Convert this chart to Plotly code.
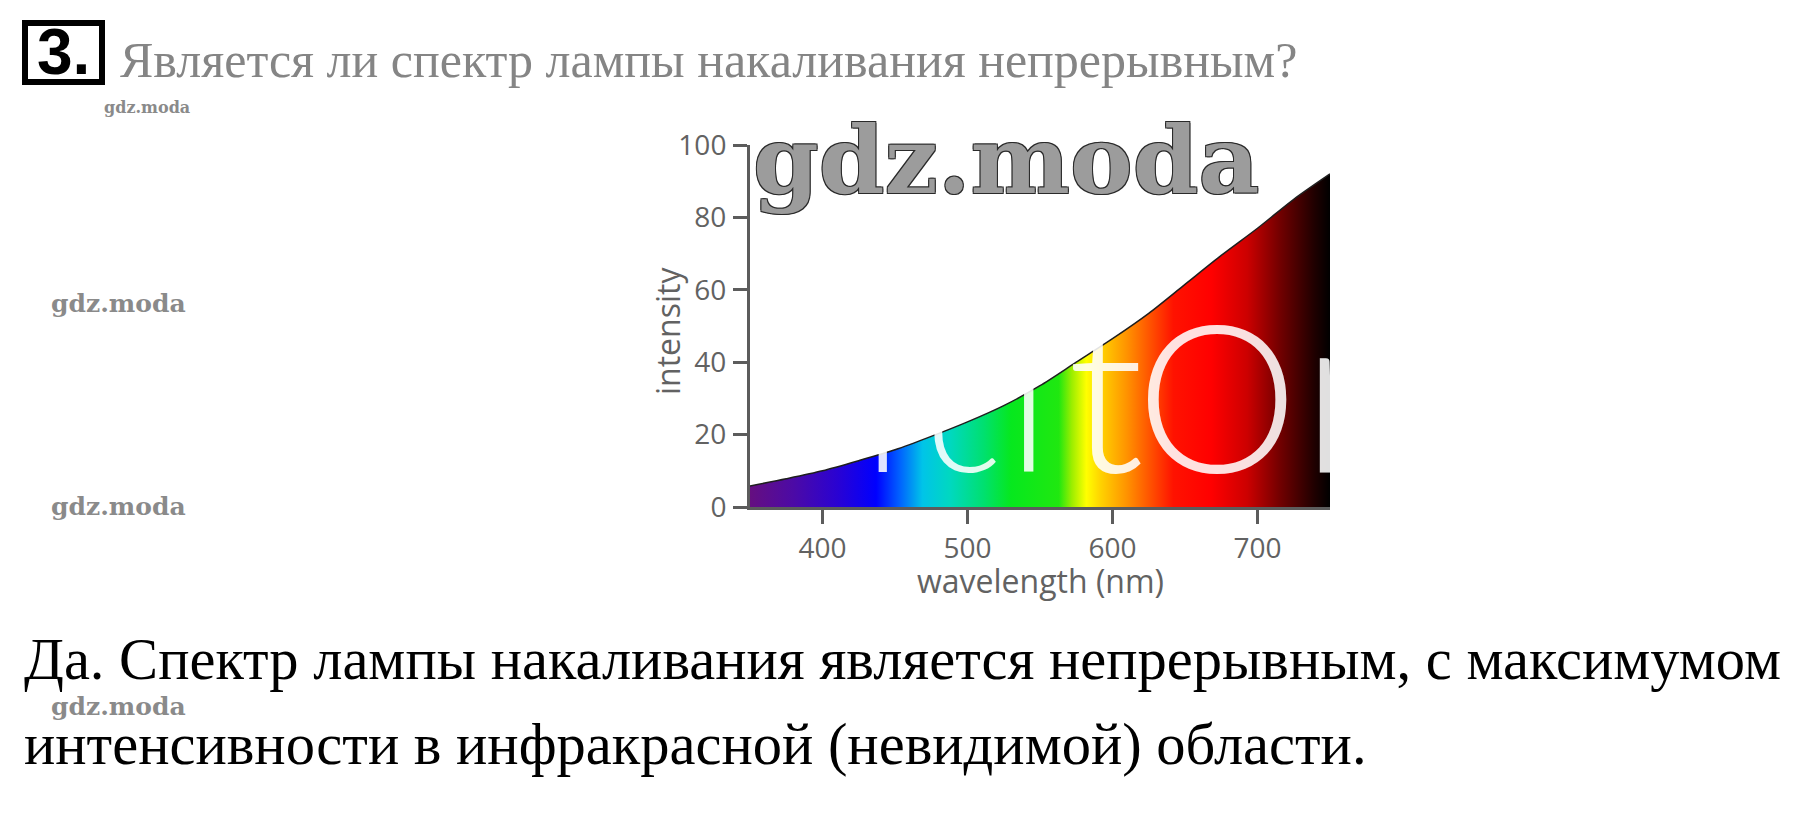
import plotly.graph_objects as go

# ---- data ----
wavelength_nm = [350, 375, 400, 425, 450, 475, 500, 525, 550, 575, 600, 625, 650, 675, 700, 725, 750]
intensity = [5.8, 7.8, 10.0, 12.8, 15.8, 19.5, 23.5, 28.0, 33.5, 40.0, 46.5, 53.5, 61.5, 69.5, 77.0, 85.0, 92.0]

x_ticks = [400, 500, 600, 700]
y_ticks = [0, 20, 40, 60, 80, 100]

# spectrum colours along the wavelength axis (nm, colour)
spectrum_nm = [350, 380, 410, 437, 453, 469, 488, 511, 530, 563, 572, 582, 592, 610, 626, 642, 668, 693, 716, 739, 750]
spectrum_col = ["#650f80", "#4c0aa6", "#2a02d2", "#0000ff", "#0060ff", "#00c4e8", "#00d8c0", "#00e070",
                "#06e81e", "#20e810", "#9cee00", "#ffff00", "#ffd200", "#ff9200", "#ff5200", "#ff1200",
                "#ff0000", "#cc0000", "#700000", "#200000", "#000000"]

question = "Является ли спектр лампы накаливания непрерывным?"
answer_1 = "Да. Спектр лампы накаливания является непрерывным, с максимумом"
answer_2 = "интенсивности в инфракрасной (невидимой) области."
mark = "gdz.moda"
x_title = "wavelength (nm)"
y_title = "intensity"

W, H = 1814, 831
lo, hi = wavelength_nm[0], wavelength_nm[-1]
colorscale = [[(w - lo) / (hi - lo), c] for w, c in zip(spectrum_nm, spectrum_col)]

fig = go.Figure()
fig.add_trace(go.Scatter(
    x=wavelength_nm, y=intensity, mode="lines", fill="tozeroy",
    fillgradient=dict(type="horizontal", colorscale=colorscale),
    line=dict(color="#1e1e1e", width=1.5, shape="spline", smoothing=0.8),
    hoverinfo="skip", showlegend=False,
))

axis_col = "#5c5c5c"
lab_font = dict(family="Open Sans", size=28, color="#626262")
title_font = dict(family="Open Sans", size=32, color="#626262")


def px_x(v):
    return v / W


def px_y(v):
    return 1 - v / H


fig.update_layout(
    width=W, height=H, autosize=False,
    margin=dict(l=0, r=0, t=0, b=0, pad=0, autoexpand=False),
    paper_bgcolor="white", plot_bgcolor="white",
    xaxis=dict(domain=[px_x(750), px_x(1330)], range=[lo, hi], tickvals=x_ticks, automargin=False,
               showline=True, linecolor=axis_col, linewidth=3, ticks="outside", ticklen=14,
               tickwidth=3, tickcolor=axis_col, tickfont=lab_font, showgrid=False, zeroline=False,
               ticklabelstandoff=0),
    yaxis=dict(domain=[px_y(507), px_y(145)], range=[0, 100], tickvals=y_ticks, automargin=False,
               showline=True, linecolor=axis_col, linewidth=3, ticks="outside", ticklen=14,
               tickwidth=3, tickcolor=axis_col, tickfont=lab_font, showgrid=False, zeroline=False,
               ticklabelstandoff=1),
)

ann = []
# axis titles
ann.append(dict(text=x_title, x=px_x(1040), y=px_y(580), xanchor="center", yanchor="middle", font=title_font))
ann.append(dict(text=y_title, x=px_x(668), y=px_y(331), xanchor="center", yanchor="middle", textangle=-90,
                font=title_font))

# boxed number
fig.add_shape(type="rect", xref="paper", yref="paper", x0=px_x(25), x1=px_x(102), y0=px_y(82), y1=px_y(23),
              line=dict(color="black", width=6), fillcolor="white")
ann.append(dict(text="<b>3.</b>", x=px_x(63), y=px_y(52), xanchor="center", yanchor="middle",
                font=dict(family="Liberation Sans Narrow, Liberation Sans", size=64, color="black")))
ann.append(dict(text=question, x=px_x(118), y=px_y(60), xanchor="left", yanchor="middle",
                font=dict(family="Liberation Serif", size=50, color="#858585")))
ann.append(dict(text=answer_1, x=px_x(22), y=px_y(659), xanchor="left", yanchor="middle",
                font=dict(family="Liberation Serif", size=58.5, color="black")))
ann.append(dict(text=answer_2, x=px_x(22), y=px_y(744), xanchor="left", yanchor="middle",
                font=dict(family="Liberation Serif", size=58.5, color="black")))

# watermarks
outline = "1px 1px 0 #2a2a2a, -1px -1px 0 #2a2a2a, 1px -1px 0 #2a2a2a, -1px 1px 0 #2a2a2a"
ann.append(dict(text="<b>" + mark + "</b>", x=px_x(147), y=px_y(108), xanchor="center", yanchor="middle",
                font=dict(family="DejaVu Serif", size=16, color="#8a8a8a")))
for yy in (303, 506, 706):
    ann.append(dict(text="<b>" + mark + "</b>", x=px_x(118), y=px_y(yy), xanchor="center", yanchor="middle",
                    font=dict(family="DejaVu Serif", size=25, color="#8a8a8a")))
ann.append(dict(text="<b>" + mark + "</b>", x=px_x(1006), y=px_y(160), xanchor="center", yanchor="middle",
                font=dict(family="DejaVu Serif", size=94, color="#9c9c9c", shadow=outline)))

# white watermark letters over the coloured fill (letter, centre x, font size)
wm_letters = [("l", 883, 170), ("c", 963, 160), ("i", 1028, 195), ("t", 1105, 225), ("O", 1217, 205), ("r", 1341, 230)]
for ch, cx, sz in wm_letters:
    ann.append(dict(text=ch, x=px_x(cx), y=px_y(472 - 0.387 * sz), xanchor="center", yanchor="middle",
                    font=dict(family="Lato", size=sz, weight=300, color="rgba(255,255,255,0.88)")))

for a in ann:
    a.update(xref="paper", yref="paper", showarrow=False)
fig.update_layout(annotations=ann)

fig.write_html("out.html", config={"displayModeBar": False},
               post_script="document.body.style.margin='0';document.body.style.overflow='hidden';")
